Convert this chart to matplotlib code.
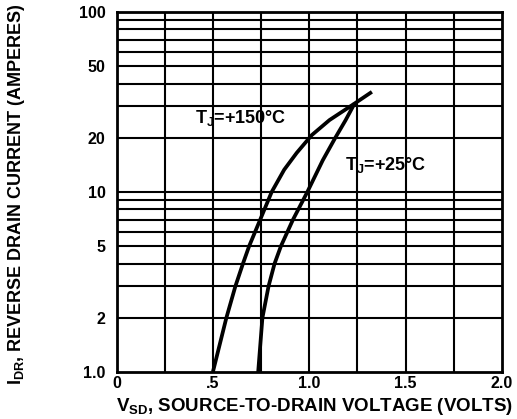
import matplotlib
matplotlib.use("Agg")
import matplotlib.pyplot as plt
from matplotlib.ticker import FixedLocator, NullFormatter, FixedFormatter

# Data
v_150 = [0.50, 0.57, 0.617, 0.656, 0.688, 0.745, 0.805, 0.87, 0.935, 1.013, 1.105, 1.235, 1.325]
i_150 = [1.0, 2.0, 3.0, 4.0, 5.0, 7.0, 10.0, 13.3, 16.5, 20.7, 25.1, 31.0, 36.0]
v_25 = [0.735, 0.757, 0.789, 0.82, 0.853, 0.915, 0.99, 1.07, 1.135, 1.188, 1.235]
i_25 = [1.0, 2.0, 3.0, 4.0, 5.0, 7.0, 10.0, 15.0, 20.0, 25.0, 31.0]

x_ticks = [0, 0.5, 1.0, 1.5, 2.0]
x_tick_labels = ["0", ".5", "1.0", "1.5", "2.0"]
x_grid = [0.25, 0.5, 0.75, 1.0, 1.25, 1.5, 1.75]
y_ticks = [1, 2, 5, 10, 20, 50, 100]
y_tick_labels = ["1.0", "2", "5", "10", "20", "50", "100"]
y_grid = [2, 3, 4, 5, 6, 7, 8, 9, 10, 20, 30, 40, 50, 60, 70, 80, 90]

plt.rcParams['font.family'] = ['Liberation Sans', 'DejaVu Sans']
plt.rcParams['font.weight'] = 'bold'
plt.rcParams['mathtext.fontset'] = 'custom'
plt.rcParams['mathtext.rm'] = 'Liberation Sans:bold'
plt.rcParams['mathtext.it'] = 'Liberation Sans:bold'
plt.rcParams['mathtext.bf'] = 'Liberation Sans:bold'
plt.rcParams['mathtext.default'] = 'rm'

fig = plt.figure(figsize=(5.17, 4.19), dpi=100)
L, R, B, T = 116.5 / 517, 502 / 517, 1 - 372 / 419, 1 - 12 / 419
ax = fig.add_axes([L, B, R - L, T - B])
ax.set_yscale('log')
ax.set_xlim(0, 2.0)
ax.set_ylim(1, 100)

for g in x_grid:
    ax.axvline(g, color='black', lw=1.5, zorder=1)
for g in y_grid:
    ax.axhline(g, color='black', lw=1.5, zorder=1)

ax.plot(v_150, i_150, color='black', lw=2.7, zorder=3,
        solid_capstyle='butt', solid_joinstyle='round')
ax.plot(v_25, i_25, color='black', lw=2.7, zorder=3,
        solid_capstyle='butt', solid_joinstyle='round')

for s in ax.spines.values():
    s.set_linewidth(2.0)

ax.xaxis.set_major_locator(FixedLocator(x_ticks))
ax.xaxis.set_major_formatter(FixedFormatter(x_tick_labels))
ax.xaxis.set_minor_formatter(NullFormatter())
ax.yaxis.set_major_locator(FixedLocator(y_ticks))
ax.yaxis.set_major_formatter(FixedFormatter(y_tick_labels))
ax.yaxis.set_minor_locator(FixedLocator([]))
ax.yaxis.set_minor_formatter(NullFormatter())
ax.tick_params(axis='both', which='both', length=0, labelsize=11.5)
ax.tick_params(axis='y', pad=8)
ax.tick_params(axis='x', pad=3)

ax.text(0.407, 25.8, "T$_\\mathrm{J}$=+150°C", fontsize=13, fontweight='bold',
        va='center', ha='left', zorder=4)
ax.text(1.185, 14.2, "T$_\\mathrm{J}$=+25°C", fontsize=13, fontweight='bold',
        va='center', ha='left', zorder=4)

ax.set_xlabel("V$_\\mathrm{SD}$, SOURCE-TO-DRAIN VOLTAGE (VOLTS)",
              fontsize=13.5, fontweight='bold')
ax.xaxis.set_label_coords(0.514, -0.066)
ax.set_ylabel("I$_\\mathrm{DR}$, REVERSE DRAIN CURRENT (AMPERES)",
              fontsize=13, fontweight='bold')
ax.yaxis.set_label_coords(-0.232, 0.494)

fig.savefig("out.png", dpi=100)
